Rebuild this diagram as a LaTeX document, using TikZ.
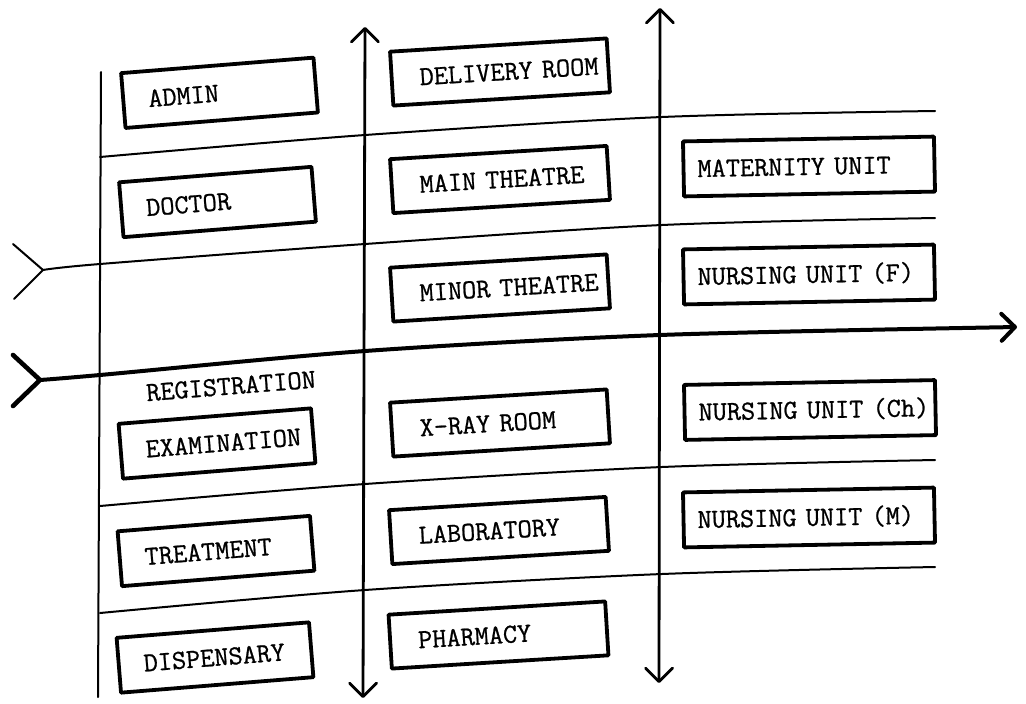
\documentclass[tikz,border=0pt]{standalone}
\usepackage{fontspec}
\setmonofont[FakeBold=0.8]{Latin Modern Mono}
\usetikzlibrary{arrows.meta}
\begin{document}
\begin{tikzpicture}[x=1pt,y=-1pt,
  thinln/.style={line width=2pt, line cap=round, line join=round, black},
  vln/.style={line width=2.8pt, line cap=round, line join=round, black},
  mainln/.style={line width=4pt, line cap=round, line join=round, black},
  barb/.tip={Straight Barb[length=13.5pt, width=27pt, round]},
  room/.style={draw, line width=3.8pt, line join=round, inner xsep=0pt, inner ysep=0pt,
    align=left, font=\ttfamily\fontsize{27.5}{30}\selectfont},
  roomL/.style={room, text width=193pt, minimum height=55pt, rotate=4.6,
    execute at begin node={\noindent\hspace*{25pt}}},
  roomM/.style={room, text width=217pt, minimum height=54pt, rotate=3.5,
    execute at begin node={\noindent\hspace*{28pt}}},
  roomR/.style={room, text width=251pt, minimum height=55pt, rotate=1.1,
    execute at begin node={\noindent\hspace*{14pt}}},
  plain/.style={inner sep=0pt, font=\ttfamily\fontsize{27.5}{30}\selectfont}
]
\useasboundingbox (0,0) rectangle (1026,704);

% coordinates
\coordinate (Ltop) at (101,72);   \coordinate (Lbot) at (98,697);
\coordinate (V1t) at (365,27);    \coordinate (V1b) at (363,698);
\coordinate (V2t) at (660,8);     \coordinate (V2b) at (659,683);

\coordinate (A0) at (100,157); \coordinate (A1) at (365,135); \coordinate (A2) at (662,117); \coordinate (A3) at (935,111);
\coordinate (B0) at (43,270);  \coordinate (B1) at (100,264); \coordinate (B2) at (365,244); \coordinate (B3) at (662,225); \coordinate (B4) at (935,218);
\coordinate (Bu) at (13,244);  \coordinate (Bd) at (14,299);
\coordinate (C0) at (40,380);  \coordinate (C1) at (100,375); \coordinate (C2) at (365,351); \coordinate (C3) at (660,335); \coordinate (C4) at (1017,327);
\coordinate (Cu) at (13,355);  \coordinate (Cd) at (13,406);
\coordinate (D0) at (100,506); \coordinate (D1) at (365,484); \coordinate (D2) at (662,467); \coordinate (D3) at (935,460);
\coordinate (E0) at (100,613); \coordinate (E1) at (365,590); \coordinate (E2) at (662,574); \coordinate (E3) at (935,567);

% frame lines
\draw[thinln] (Ltop) -- (Lbot);
\draw[thinln] plot[smooth, tension=0.5] coordinates {(A0) (A1) (A2) (A3)};
\draw[thinln] plot[smooth, tension=0.5] coordinates {(B0) (B1) (B2) (B3) (B4)};
\draw[thinln] (Bu) -- (B0) -- (Bd);
\draw[thinln] plot[smooth, tension=0.5] coordinates {(D0) (D1) (D2) (D3)};
\draw[thinln] plot[smooth, tension=0.5] coordinates {(E0) (E1) (E2) (E3)};

% main flow
\draw[mainln, -barb] plot[smooth, tension=0.5] coordinates {(C0) (C1) (C2) (C3) (C4)};
\draw[mainln, line width=4.6pt] (Cu) -- (C0) -- (Cd);

% vertical arrows
\draw[vln, barb-barb] (V1b) -- (V1t);
\draw[vln, barb-barb] (V2b) -- (V2t);

% left column
\node[roomL] (admin)  at (219.5,92.8) {ADMIN};
\node[roomL] (doctor) at (217.5,202)  {DOCTOR};
\node[plain, rotate=4.6] (reg) at (231,386) {REGISTRATION};
\node[roomL] (exam)   at (217,443.5)  {EXAMINATION};
\node[roomL] (treat)  at (216,551)    {TREATMENT};
\node[roomL] (disp)   at (215,657.5)  {DISPENSARY};

% middle column
\node[roomM] (deliv)  at (500,72)     {DELIVERY ROOM};
\node[roomM] (mainth) at (500,179.5)  {MAIN THEATRE};
\node[roomM] (minth)  at (500,288)    {MINOR THEATRE};
\node[roomM] (xray)   at (500,423)    {X-RAY ROOM};
\node[roomM] (lab)    at (499,530.5)  {LABORATORY};
\node[roomM] (pharm)  at (498.5,635)  {PHARMACY};

% right column
\node[roomR] (mat)  at (809,166.5) {MATERNITY UNIT};
\node[roomR] (nufe) at (809,274.5) {NURSING UNIT (F)};
\node[roomR] (nuch) at (810,410)   {NURSING UNIT (Ch)};
\node[roomR] (num)  at (809,517.5) {NURSING UNIT (M)};
\end{tikzpicture}
\end{document}
